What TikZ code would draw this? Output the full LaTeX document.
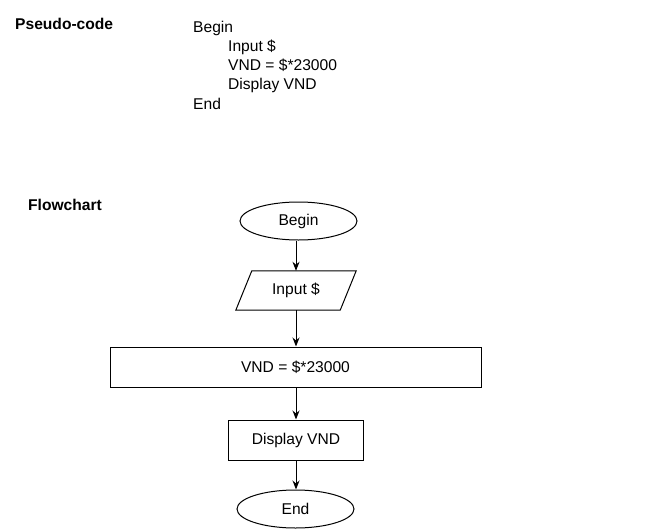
\documentclass[tikz,border=0pt]{standalone}
\usepackage{fontspec}
\setmainfont{Liberation Sans}
\usetikzlibrary{shapes.geometric,arrows.meta}
\begin{document}
\begin{tikzpicture}[x=1pt,y=-1pt,
  every node/.style={font=\fontsize{15.6}{18}\selectfont, inner sep=0pt},
  txt/.style={anchor=base west},
  hdr/.style={anchor=base west, font=\fontsize{15.6}{18}\selectfont\bfseries},
  term/.style={ellipse, draw, line width=1pt, minimum width=117pt, minimum height=38pt},
  proc/.style={rectangle, draw, line width=1pt, minimum height=40pt},
  arr/.style={line width=1pt, -{Stealth[length=9pt,width=7pt]}}]
\useasboundingbox (0,0) rectangle (651,530);
% pseudo-code
\node[hdr] (ph) at (15,29) {Pseudo-code};
\node[txt] (p1) at (193,32.5) {Begin};
\node[txt] (p2) at (228,51.5) {Input \$};
\node[txt] (p3) at (228,70.5) {VND = \$*23000};
\node[txt] (p4) at (228,89.5) {Display VND};
\node[txt] (p5) at (193,109) {End};
% flowchart
\node[hdr] (fh) at (28,210.5) {Flowchart};
\node[term] (begin) at (298.5,221) {Begin};
\node[minimum width=120pt, minimum height=39pt] (input) at (296,290.5) {Input \$};
\draw[line width=1pt] ([xshift=16pt]input.north west) -- (input.north east)
  -- ([xshift=-16pt]input.south east) -- (input.south west) -- cycle;
\node[proc, minimum width=371pt] (calc) at (295.5,367) {VND = \$*23000};
\node[proc, minimum width=135pt] (disp) at (296,440) {Display VND};
\node[term] (end) at (295.5,509) {End};
\draw[arr] (begin.south -| input.north) -- (input.north);
\draw[arr] (input.south) -- (input.south |- calc.north);
\draw[arr] (calc.south -| disp.north) -- (disp.north);
\draw[arr] (disp.south) -- (disp.south |- end.north);
\end{tikzpicture}
\end{document}
